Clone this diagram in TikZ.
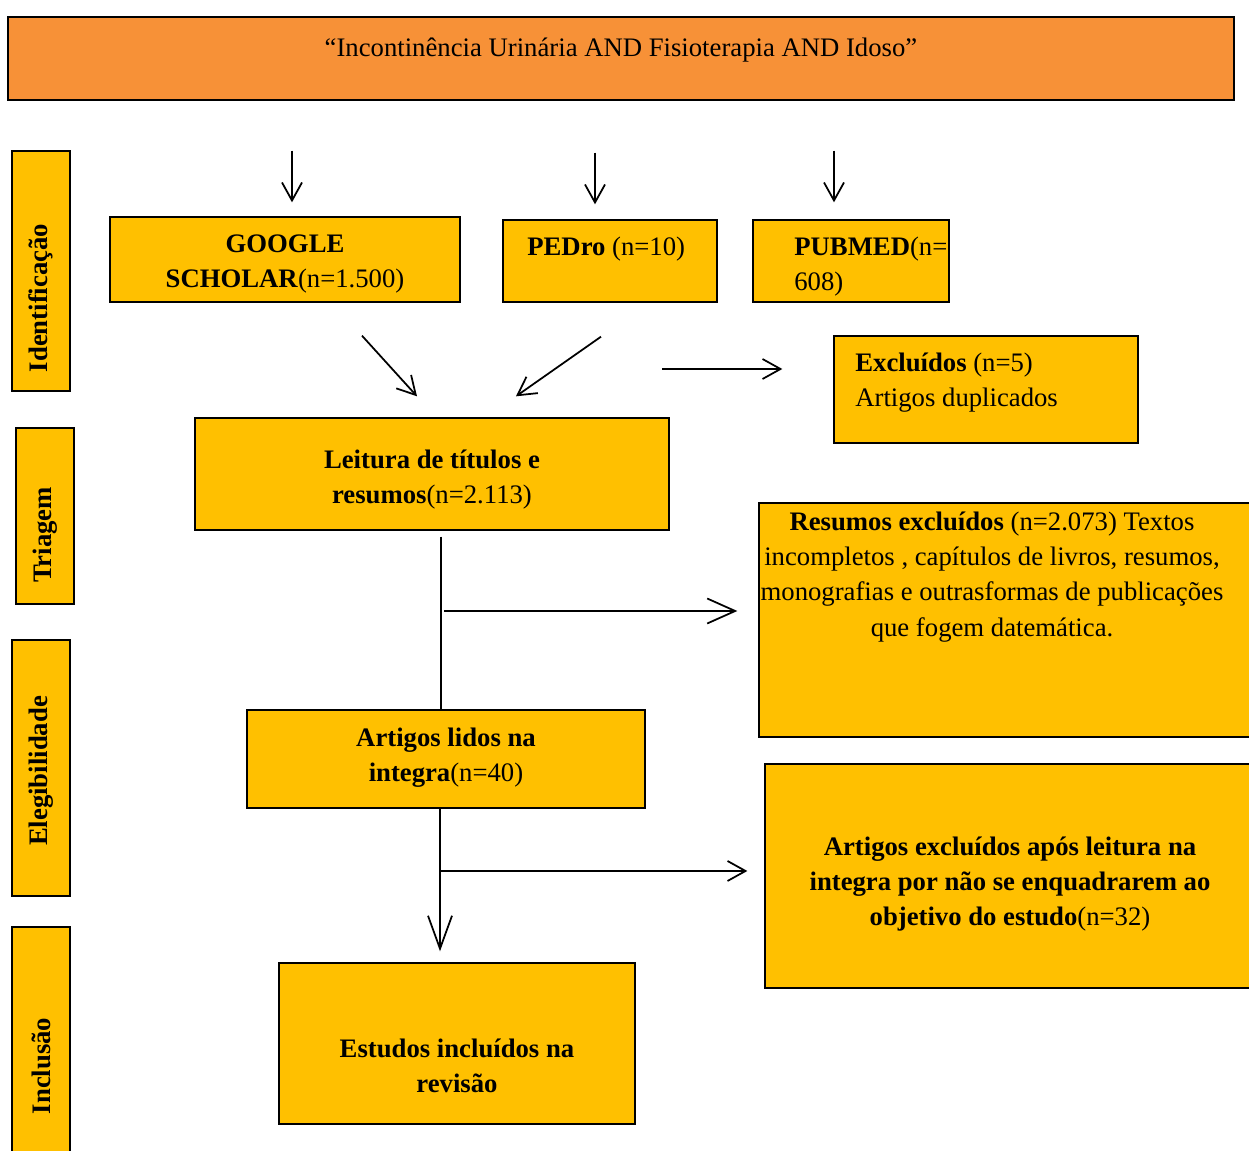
\documentclass[tikz,border=0pt]{standalone}
\usepackage{fontspec}
\setmainfont{Liberation Serif}
\usetikzlibrary{arrows.meta}
\definecolor{ambar}{HTML}{FFC000}
\definecolor{laranja}{HTML}{F79137}

\begin{document}
\begin{tikzpicture}[x=0.02cm,y=-0.02cm,
  caixa/.style={draw=black,fill=ambar,line width=0.8pt,inner sep=0pt},
  texto/.style={font=\fontsize{15.2}{20}\selectfont,align=center,inner sep=0pt},
  lateral/.style={caixa,minimum width=1.16cm},
  rotulo/.style={texto,rotate=90,font=\fontsize{15.2}{17}\selectfont\bfseries},
  linha/.style={line width=1pt},
  seta/.style={linha,-{Straight Barb[length=3.6mm,width=4mm]}},
  setagrande/.style={linha,-{Straight Barb[length=5.6mm,width=5mm]}}]

  \useasboundingbox (0,0) rectangle (1249,1151);
  \clip (0,0) rectangle (1249,1151);

  \node[caixa,fill=laranja,minimum width=24.52cm,minimum height=1.66cm] (busca) at (621,58.5) {};
  \node[texto] (buscat) at (621,50) {“Incontinência Urinária AND Fisioterapia AND Idoso”};

  \node[lateral,minimum height=4.8cm] (ident) at (41,271) {};
  \node[rotulo] (identt) at (41,298) {Identificação};
  \node[lateral,minimum height=3.52cm] (triag) at (45,516) {};
  \node[rotulo] (triagt) at (45,535) {Triagem};
  \node[lateral,minimum height=5.12cm] (elegi) at (41,768) {};
  \node[rotulo] (elegit) at (41,771) {Elegibilidade};
  \node[lateral,minimum height=4.66cm] (inclu) at (41,1043.5) {};
  \node[rotulo] (inclut) at (41,1066) {Inclusão};

  \node[caixa,minimum width=7cm,minimum height=1.7cm] (google) at (285,259.5) {};
  \node[texto] (googlet) at (285,264) {\textbf{GOOGLE}\\\textbf{SCHOLAR}(n=1.500)};
  \node[caixa,minimum width=4.28cm,minimum height=1.64cm] (pedro) at (610,261) {};
  \node[texto,anchor=west] (pedrot) at (527,249) {\textbf{PEDro} (n=10)};
  \node[caixa,minimum width=3.92cm,minimum height=1.64cm] (pubmed) at (851,261) {};
  \node[texto,align=left,anchor=west] (pubmedt) at (794,267) {\textbf{PUBMED}(n=\\608)};

  \node[caixa,minimum width=6.08cm,minimum height=2.14cm] (dupl) at (986,389.5) {};
  \node[texto,align=left,anchor=west] (duplt) at (855,383) {\textbf{Excluídos} (n=5)\\Artigos duplicados};

  \node[caixa,minimum width=9.48cm,minimum height=2.24cm] (leitura) at (432,474) {};
  \node[texto] (leiturat) at (432,480) {\textbf{Leitura de títulos e}\\\textbf{resumos}(n=2.113)};
  \node[caixa,minimum width=10.02cm,minimum height=4.68cm] (resumos) at (1009.5,620) {};
  \node[texto] (resumost) at (992,577)
    {\textbf{Resumos excluídos} (n=2.073) Textos\\incompletos , capítulos de livros, resumos,\\monografias e outrasformas de publicações\\que fogem datemática.};

  \node[caixa,minimum width=7.96cm,minimum height=1.96cm] (lidos) at (446,759) {};
  \node[texto] (lidost) at (446,758) {\textbf{Artigos lidos na}\\\textbf{integra}(n=40)};
  \node[caixa,minimum width=9.9cm,minimum height=4.48cm] (aexcl) at (1012.5,876) {};
  \node[texto] (aexclt) at (1010,884)
    {\textbf{Artigos excluídos após leitura na}\\\textbf{integra por não se enquadrarem ao}\\\textbf{objetivo do estudo}(n=32)};

  \node[caixa,minimum width=7.12cm,minimum height=3.22cm] (estudos) at (457,1043.5) {};
  \node[texto] (estudost) at (457,1066) {\textbf{Estudos incluídos na}\\\textbf{revisão}};

  \draw[seta] ([xshift=0.14cm,yshift=-1cm]busca.south -| google.north) -- ([xshift=0.14cm,yshift=0.28cm]google.north);
  \draw[seta] ([xshift=-0.3cm,yshift=-1.04cm]busca.south -| pedro.north) -- ([xshift=-0.3cm,yshift=0.3cm]pedro.north);
  \draw[seta] ([xshift=-0.34cm,yshift=-1cm]busca.south -| pubmed.north) -- ([xshift=-0.34cm,yshift=0.34cm]pubmed.north);

  \draw[seta] ([xshift=1.54cm,yshift=-0.66cm]google.south) -- ([xshift=-0.3cm,yshift=0.42cm]leitura.north);
  \draw[seta] ([xshift=-0.18cm,yshift=-0.68cm]pedro.south) -- ([xshift=1.68cm,yshift=0.42cm]leitura.north);
  \draw[seta] ([xshift=-3.42cm,yshift=0.41cm]dupl.west) -- ([xshift=-1.02cm,yshift=0.41cm]dupl.west);

  \coordinate (l0) at ([xshift=0.18cm,yshift=-0.12cm]leitura.south);
  \draw[linha] (l0) -- (l0 |- lidos.north);
  \draw[setagrande] ([xshift=-6.28cm,yshift=0.18cm]resumos.west) -- ([xshift=-0.42cm,yshift=0.18cm]resumos.west);

  \coordinate (e0) at ([xshift=-0.12cm]lidos.south);
  \coordinate (e1) at (e0 |- estudos.north);
  \coordinate (e2) at (e0 |- aexcl.west);
  \draw[linha,-{Straight Barb[length=6.6mm,width=4.8mm]}] (e0) -- ([yshift=0.22cm]e1);
  \draw[seta] ([yshift=0.1cm]e2) -- ([xshift=-0.34cm,yshift=0.1cm]aexcl.west);
\end{tikzpicture}
\end{document}
